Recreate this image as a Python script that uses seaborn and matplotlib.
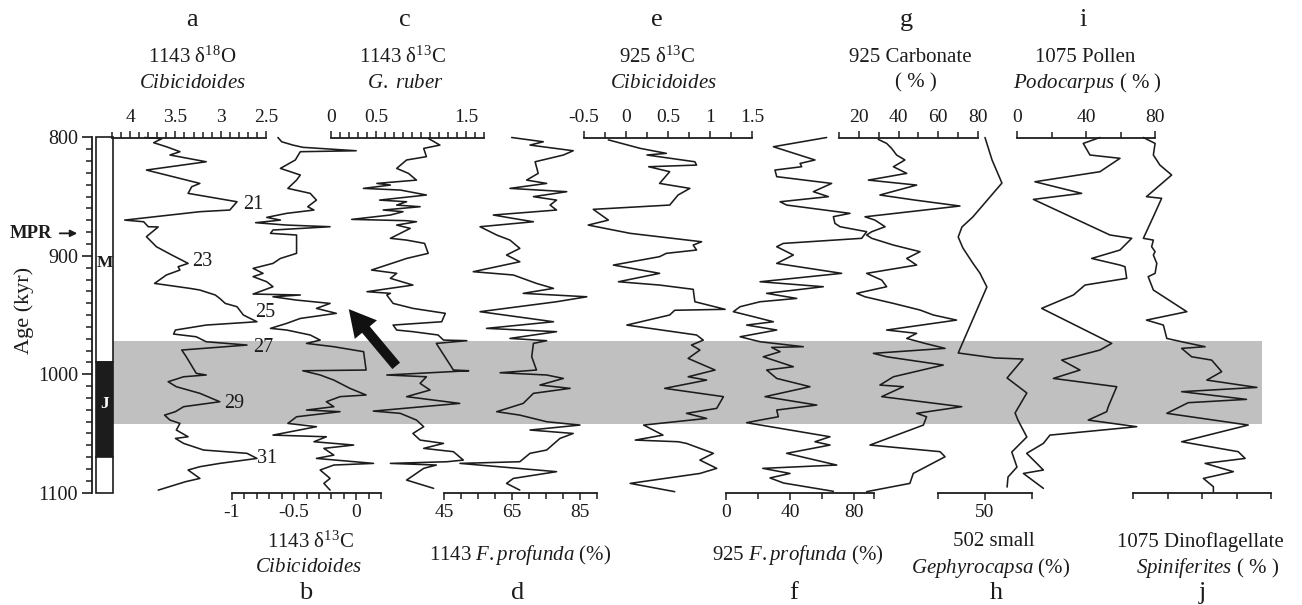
import numpy as np
import matplotlib
matplotlib.use("Agg")
import matplotlib.pyplot as plt
import matplotlib.transforms as mtransforms
from matplotlib.patches import Rectangle, FancyArrowPatch
from matplotlib.ticker import FixedLocator, FixedFormatter, NullFormatter
import seaborn as sns

sns.set_style("white")
plt.rcParams["font.family"] = ["Liberation Serif", "DejaVu Serif"]
plt.rcParams["mathtext.fontset"] = "custom"
plt.rcParams["mathtext.rm"] = "Liberation Serif"
plt.rcParams["mathtext.it"] = "Liberation Serif:italic"
plt.rcParams["mathtext.bf"] = "Liberation Serif:bold"

# ---------------------------------------------------------------- data
# (a) ODP 1143 benthic d18O, Cibicidoides (per mil)
a_age = [800, 801, 804.4, 807.8, 812, 814.8, 820.5, 827.5, 838.8, 841.6, 847.2, 854.3,
         861.3, 862.7, 869.8, 871.2, 875.4, 875.6, 883.8, 892.3, 899.3, 903.6, 906.4,
         909.2, 912, 916.2, 923.3, 927.5, 928.9, 933.1, 936, 940.2, 943, 950, 955.7,
         958.5, 962.7, 966.1, 968.4, 972.6, 975.4, 979.6, 985.3, 999.3, 1000.7, 1002.2,
         1006.4, 1010.6, 1016.2, 1023.3, 1027.5, 1031.7, 1034.6, 1038.8, 1041.6, 1047.2,
         1052.9, 1054.3, 1058.5, 1064.1, 1066.9, 1071.2, 1075.4, 1078.2, 1081, 1088.1,
         1090.9, 1098]
a_val = [3.84, 3.65, 3.74, 3.60, 3.45, 3.56, 3.16, 3.82, 3.23, 3.32, 3.36, 2.82,
         2.90, 3.23, 4.06, 3.85, 3.80, 3.69, 3.82, 3.71, 3.54, 3.43, 3.36,
         3.47, 3.45, 3.60, 3.73, 3.34, 3.23, 3.06, 3.01, 2.95, 2.82, 2.75, 2.60,
         3.16, 3.50, 3.52, 3.27, 3.16, 2.71, 3.43, 3.38, 3.27, 3.16, 3.41,
         3.58, 3.49, 3.23, 3.01, 3.41, 3.50, 3.62, 3.56, 3.45, 3.49,
         3.36, 3.50, 3.41, 3.19, 2.71, 2.60, 3.01, 3.23, 3.36, 3.23,
         3.39, 3.69]
mis_label = ["21", "23", "25", "27", "29", "31"]
mis_age = [857, 904.4, 947.5, 977.5, 1024.6, 1071]
mis_val = [2.75, 3.31, 2.62, 2.64, 2.96, 2.60]

# (b) ODP 1143 benthic d13C, Cibicidoides (per mil)
b_age = [800, 803.6, 806.4, 808.3, 811.2, 812, 819, 826.1, 831.7, 836, 843, 847.2,
         852.9, 858.5, 861.3, 864.1, 867.5, 869.8, 872, 874, 875.4, 878.2, 881, 882.4,
         897.9, 902.2, 906.4, 910.6, 914.8, 917.6, 921.9, 926.1, 932.3, 933.1, 934.6,
         937.4, 940.2, 944.4, 948.6, 952.9, 957.1, 961.3, 962.7, 966.9, 971.2, 974,
         976.8, 981, 996.5, 997.1, 1000.7, 1005, 1012, 1017.6, 1019, 1023.3, 1027.5,
         1030.3, 1031.7, 1036, 1041.6, 1044.4, 1051.5, 1052.9, 1057.1, 1059.9, 1062.7,
         1068.4, 1071.2, 1075.4, 1076.8, 1081, 1088.1, 1092.3, 1098]
b_val = [-0.63, -0.60, -0.51, -0.43, 0.00, -0.45, -0.49, -0.61, -0.45, -0.48, -0.55, -0.37,
         -0.32, -0.39, -0.34, -0.56, -0.72, -0.61, -0.81, -0.56, -0.21, -0.67, -0.69, -0.48,
         -0.48, -0.61, -0.67, -0.83, -0.75, -0.83, -0.72, -0.67, -0.83, -0.45, -0.67,
         -0.48, -0.21, -0.32, -0.16, -0.45, -0.56, -0.69, -0.56, -0.37, -0.29, -0.40,
         -0.18, 0.06, 0.08, -0.43, -0.29, -0.18, -0.05, 0.08, -0.13, -0.24, -0.18,
         -0.40, -0.13, -0.48, -0.55, -0.32, -0.67, -0.24, -0.34, -0.02, -0.26,
         -0.18, -0.32, 0.14, -0.18, -0.29, -0.21, -0.26, -0.21]

# (c) ODP 1143 planktonic d13C, G. ruber (per mil)
c_age = [800.7, 806.4, 809.2, 816.2, 819, 826.1, 830.3, 836, 838.8, 840.2, 843, 844.4,
         848.6, 852.9, 854.3, 857.1, 858.5, 861.3, 862.7, 865.5, 869.2, 870.3, 871.2,
         874, 876.8, 885.2, 886.7, 889.5, 897.9, 902.2, 905, 912, 914.8, 919, 924.7,
         930.3, 931.7, 933.1, 940.2, 944.4, 948.6, 955.7, 958.5, 962.7, 964.1, 966.9,
         971.2, 971.7, 974, 996.5, 997.1, 1000.7, 1002.2, 1007.8, 1013.4, 1019, 1024.7,
         1031.2, 1033.1, 1038.8, 1044.4, 1050.1, 1055.7, 1058.5, 1062.7, 1065.5, 1072.6,
         1074, 1075.4, 1076.8, 1079.6, 1089.5, 1096.5]
c_val = [1.08, 1.21, 1.03, 1.06, 0.84, 0.73, 0.86, 0.95, 0.51, 0.66, 0.36, 0.77,
         1.06, 0.54, 0.84, 0.73, 0.99, 0.58, 0.80, 0.66, 0.23, 0.84, 0.95,
         0.73, 0.88, 0.66, 0.84, 1.04, 1.08, 0.84, 0.73, 0.45, 0.73, 0.66, 0.91,
         0.40, 0.66, 0.62, 0.69, 0.91, 1.27, 1.23, 0.69, 0.73, 0.91, 1.19,
         1.25, 1.51, 1.17, 1.36, 1.53, 0.62, 1.06, 0.99, 1.10, 0.84, 1.43,
         0.47, 0.77, 0.95, 1.03, 0.91, 0.99, 1.25, 1.03, 1.36, 1.47,
         1.29, 0.66, 1.17, 1.03, 0.84, 1.14]

# (d) ODP 1143 F. profunda (%)
d_age = [800, 803.6, 806.4, 811.2, 814.8, 816.2, 820.5, 830.3, 836, 838.8, 843, 845.8,
         850, 852.9, 857.1, 861.3, 865.5, 868.4, 871.2, 875.4, 882.4, 886.7, 893.7,
         899.3, 905, 913.4, 916.2, 923.3, 927.5, 931.7, 934.6, 938.8, 947.2, 955.7,
         961.3, 964.1, 969.8, 971.7, 974, 985.3, 996.5, 998.8, 1000.7, 1003.6, 1009.2,
         1012, 1016.2, 1024.7, 1031.7, 1034.6, 1040.2, 1043, 1047.2, 1050.1, 1054.3,
         1064.1, 1066.9, 1074, 1075.4, 1082.4, 1088.1, 1092.3, 1098]
d_val = [64.9, 74.2, 70.3, 83.0, 80.1, 78.1, 71.8, 72.7, 69.3, 75.2, 64.4, 81.1,
         71.3, 78.1, 76.2, 78.1, 59.5, 65.4, 71.3, 55.6, 60.5, 64.4, 67.3,
         63.4, 67.3, 53.6, 65.4, 72.2, 77.2, 68.3, 87.0, 78.1, 55.6, 77.2,
         57.5, 78.1, 64.4, 75.2, 71.3, 70.8, 72.2, 61.5, 75.2, 80.1, 73.2,
         82.1, 71.3, 68.3, 60.5, 67.3, 75.2, 85.0, 70.3, 83.0, 79.1,
         75.2, 70.3, 67.3, 49.7, 78.1, 65.4, 63.4, 67.3]

# (e) ODP 925 benthic d13C, Cibicidoides (per mil)
e_age = [802, 809.2, 813.4, 814.8, 820.5, 823.3, 824.7, 828.9, 838.8, 843, 848.6, 857.1,
         860.7, 869.8, 874, 881, 888.1, 890.9, 895.1, 897.9, 900.7, 907.8, 914.8, 921.9,
         924.7, 928.3, 938.8, 942, 945.2, 946, 950, 958.5, 966.9, 971.2, 975.4, 979.6,
         986.7, 996.5, 1002.2, 1005, 1012, 1019, 1028.9, 1033.1, 1037.4, 1043, 1051.5,
         1055.7, 1057.1, 1058.5, 1066.9, 1072.6, 1079.6, 1083.9, 1092.3, 1099.3]
e_val = [-0.21, 0.17, 0.48, 0.25, 0.82, 0.84, 0.27, 0.52, 0.40, 0.76, 0.62, 0.52,
         -0.39, -0.21, -0.45, 0.05, 0.90, 0.80, 0.84, 0.48, 0.40, -0.15, 0.40, -0.09,
         0.40, 0.80, 0.82, 1.00, 1.18, 0.58, 0.52, 0.01, 0.84, 0.92, 0.78, 0.88,
         0.74, 1.06, 0.74, 0.96, 0.46, 1.16, 1.08, 0.72, 0.96, 0.21, 0.44,
         0.11, 0.62, 0.72, 1.04, 0.88, 1.08, 0.88, 0.05, 0.58]

# (f) ODP 925 F. profunda (%)
f_age = [800, 807.8, 819, 821.9, 824.7, 827.5, 833.1, 838.8, 845.8, 850, 854.3, 857.1,
         864.1, 866.9, 872.6, 875.4, 879.6, 885.2, 889.5, 892.3, 899.3, 906.4, 914.8,
         921.9, 926.1, 931.7, 936, 938.8, 943, 947.2, 951.4, 955.7, 958.5, 962.7, 968.4,
         972.6, 976.8, 977.4, 981, 985.3, 993.7, 996.5, 1003.6, 1010.6, 1019, 1026.1,
         1030.3, 1036, 1038.8, 1041, 1052.9, 1057.1, 1059.9, 1066.9, 1076.8, 1079.6,
         1083.9, 1087.7, 1092, 1099]
f_val = [62.9, 29.6, 55.6, 46.3, 47.3, 30.6, 31.7, 66.0, 54.6, 64.0, 33.8, 37.9,
         77.5, 67.1, 68.1, 71.3, 87.9, 84.8, 35.8, 31.7, 42.1, 31.7, 72.3,
         21.3, 60.8, 25.4, 44.2, 21.3, 8.8, 4.6, 17.1, 29.6, 12.9, 31.7, 8.8,
         21.3, 48.3, 28.5, 33.8, 23.3, 42.1, 25.4, 31.7, 52.5, 24.4, 56.7,
         31.7, 32.7, 21.3, 12.9, 65.0, 55.6, 65.0, 37.9, 69.2, 23.0,
         40.0, 27.5, 36.0, 67.1]

# (g) ODP 925 carbonate (%)
g_age = [801.6, 805, 809.2, 814.8, 819, 824.7, 830.3, 836, 840.2, 848.6, 852.9, 857.9,
         867, 869.8, 875.4, 879.6, 882.4, 885.2, 890.9, 896.5, 902.2, 907.8, 914.8,
         920.5, 926.1, 931.7, 934.6, 940.2, 945.8, 950, 954.3, 962.7, 965.5, 969.8,
         974, 978.2, 982.4, 985.3, 992.3, 1002.2, 1009.2, 1010.6, 1019, 1027.5, 1033.1,
         1036, 1043, 1059.9, 1065.5, 1069.8, 1083.9, 1092.3, 1099.3]
g_val = [29.8, 34.0, 36.5, 39.0, 43.2, 37.4, 44.1, 24.8, 49.1, 30.6, 48.3, 70.9,
         23.1, 28.1, 33.2, 26.5, 23.9, 26.5, 37.4, 50.8, 44.1, 49.1, 23.9,
         31.5, 34.0, 18.9, 23.1, 37.4, 50.8, 57.5, 69.2, 34.0, 49.1, 44.1,
         53.3, 63.4, 27.3, 34.0, 62.5, 37.4, 30.6, 42.4, 31.5, 71.8, 49.1,
         54.1, 52.5, 25.6, 60.9, 63.4, 47.4, 45.7, 23.9]

# (h) ODP 502 small Gephyrocapsa (%)
h_age = [800, 819, 838.5, 867.2, 875.6, 884.1, 893.4, 906.1, 914.5, 926.3, 982.1,
         986.3, 987.2, 1003.2, 1015.9, 1032.8, 1038.7, 1053.1, 1065.8, 1078.5, 1086.9,
         1095.4]
h_val = [50.0, 51.5, 53.6, 47.4, 45.1, 44.3, 45.3, 47.4, 48.9, 50.4, 44.3,
         52.1, 58.1, 54.7, 58.9, 56.4, 57.0, 58.9, 55.7, 56.8, 54.9,
         54.7]

# (i) ODP 1075 Podocarpus pollen (%)
i_age = [800, 805, 814.8, 817.6, 828.9, 837.4, 847.2, 852.3, 882.4, 885.2, 895.1,
         902.2, 907.8, 909.2, 919, 924.7, 933.1, 944.4, 974, 979.6, 988.1, 996.5,
         1003.6, 1010.6, 1027.5, 1031.7, 1038.8, 1044.4, 1051.5, 1058.5, 1066.9,
         1081, 1083.9, 1096.5]
i_val = [48.1, 38.4, 42.3, 59.7, 48.1, 10.4, 37.5, 9.5, 53.9, 66.5, 59.7,
         43.3, 59.7, 62.6, 63.6, 39.4, 32.7, 14.3, 54.9, 48.1, 25.9, 36.5,
         21.1, 57.8, 52.9, 52.0, 41.3, 69.4, 19.1, 15.3, 5.6,
         15.3, 3.7, 15.3]

# (j) ODP 1075 dinoflagellate Spiniferites (%)
j_age = [800, 805, 814.8, 823.3, 831.7, 850, 851.4, 866.9, 885.2, 886.7, 892.3,
         896.5, 899.3, 906.4, 914.8, 917.6, 928.9, 947.2, 954.3, 958.5, 969.8, 972.6,
         976.8, 978.2, 985.3, 988.1, 997.9, 1005, 1011.2, 1014.8, 1021.3, 1024.1,
         1033.1, 1043, 1057.1, 1065.5, 1071.2, 1075.4, 1082.4, 1088.1, 1095.1, 1099.3]
j_val = [3.0, 6.4, 5.9, 7.8, 11.2, 3.9, 8.3, 5.9, 3.0, 5.9, 5.4,
         6.4, 5.9, 6.9, 6.4, 4.4, 5.9, 15.6, 3.9, 8.8, 9.8, 14.1,
         20.9, 14.1, 17.0, 22.8, 25.7, 21.4, 35.9, 14.1, 32.9, 16.0,
         9.8, 33.4, 14.1, 30.5, 32.5, 20.9, 29.1, 20.4, 23.3, 23.3]

# Geomagnetic polarity (Matuyama chron with the Jaramillo subchron)
chron_name = ["M", "J", ""]
chron_label_age = [906, 1025, 1085]
chron_top = [800, 990, 1070]
chron_base = [990, 1070, 1100]
chron_normal = [False, True, False]

band_age = (972, 1042)   # highlighted interval
mpr_age = 881            # onset of the Mid-Pleistocene Revolution

# ---------------------------------------------------------------- layout helpers
W, H = 1302, 605
fig = plt.figure(figsize=(W / 100, H / 100), dpi=100)
Y_TOP, Y_BOT = 137.5, 492.5
INK = "#1c1c1c"
TITLE = 15
TICK = 14


def fx(x):
    return x / W


def fy(y):
    return 1 - y / H


def ftext(x, y, s, size=TITLE, **kw):
    fig.text(fx(x), fy(y), s, ha="center", va="center", fontsize=size, color=INK, **kw)


# Age axis, highlighted band and polarity column
ax0 = fig.add_axes([fx(92), fy(Y_BOT), fx(1262 - 92), (Y_BOT - Y_TOP) / H])
ax0.set_ylim(1100, 800)
ax0.set_xlim(0, 1)
ax0.patch.set_alpha(0)
for side in ["top", "right", "bottom"]:
    ax0.spines[side].set_visible(False)
ax0.spines["left"].set_linewidth(1.3)
ax0.spines["left"].set_color(INK)
ax0.set_xticks([])
ax0.set_yticks([800, 900, 1000, 1100])
ax0.yaxis.set_minor_locator(FixedLocator(np.arange(800, 1101, 10)))
ax0.tick_params(axis="y", which="major", direction="out", length=7, width=1.2,
                labelsize=14.5, pad=3, colors=INK, left=True)
ax0.tick_params(axis="y", which="minor", direction="out", length=4, width=1.1,
                colors=INK, left=True)

band_x0 = (113 - 92) / (1262 - 92)
ax0.axhspan(band_age[0], band_age[1], xmin=band_x0, xmax=1.0, color="#c0c0c0",
            lw=0, zorder=0)

blend = mtransforms.blended_transform_factory(ax0.transAxes, ax0.transData)
bx0 = (96 - 92) / (1262 - 92)
bw = (113 - 96) / (1262 - 92)
for name, lab_age, top, base, normal in zip(chron_name, chron_label_age, chron_top,
                                            chron_base, chron_normal):
    ax0.add_patch(Rectangle((bx0, top), bw, base - top, transform=blend,
                            facecolor=INK if normal else "white", edgecolor=INK,
                            lw=1.2, zorder=3, clip_on=False))
    if name:
        ax0.text(bx0 + bw / 2, lab_age, name, transform=blend, ha="center",
                 va="center", fontsize=12.5, fontweight="bold",
                 color="white" if normal else INK, zorder=4)

fig.text(fx(24), fy(310), "Age (kyr)", rotation=90, ha="center", va="center",
         fontsize=16, color=INK)
mpr_y = Y_TOP + (mpr_age - 800) * (Y_BOT - Y_TOP) / 300
fig.text(fx(10), fy(mpr_y), "MPR", ha="left", va="center", fontsize=13.5,
         fontweight="bold", color=INK)
fig.add_artist(FancyArrowPatch(
    (fx(57), fy(mpr_y)), (fx(80), fy(mpr_y)), transform=fig.transFigure,
    arrowstyle="-|>", mutation_scale=10, lw=1.3, color=INK))


# ---------------------------------------------------------------- record panels
def panel(x0, x1, lim, ages, vals, side, majors, labels, minors):
    ax = fig.add_axes([fx(x0), fy(Y_BOT), fx(x1 - x0), (Y_BOT - Y_TOP) / H])
    ax.patch.set_alpha(0)
    sns.lineplot(x=vals, y=ages, sort=False, estimator=None, ax=ax, color=INK,
                 lw=1.15, clip_on=False)
    ax.set_xlim(*lim)
    ax.set_ylim(1100, 800)
    ax.set_xlabel("")
    ax.set_ylabel("")
    ax.set_yticks([])
    for s in ["top", "bottom", "left", "right"]:
        ax.spines[s].set_visible(s == side)
    ax.spines[side].set_linewidth(1.3)
    ax.spines[side].set_color(INK)
    ax.xaxis.set_ticks_position(side)
    ax.xaxis.set_label_position(side)
    ax.xaxis.set_major_locator(FixedLocator(majors))
    ax.xaxis.set_major_formatter(FixedFormatter(labels))
    ax.xaxis.set_minor_locator(FixedLocator(minors))
    ax.xaxis.set_minor_formatter(NullFormatter())
    ax.tick_params(axis="x", which="both", direction="out", width=1.1, colors=INK,
                   labelsize=TICK, pad=3)
    ax.tick_params(axis="x", which="major", length=5)
    ax.tick_params(axis="x", which="minor", length=4)
    return ax


ax_a = panel(112, 266, (4.2, 2.5), a_age, a_val, "top",
             [4, 3.5, 3, 2.5], ["4", "3.5", "3", "2.5"], np.arange(2.5, 4.21, 0.1))
for lab, age, val in zip(mis_label, mis_age, mis_val):
    ax_a.text(val, age, lab, ha="left", va="center", fontsize=14.5, color=INK)

panel(232, 381, (-1, 0.2), b_age, b_val, "bottom",
      [-1, -0.5, 0], ["-1", "-0.5", "0"], np.arange(-1, 0.21, 0.1))
panel(331, 484, (0, 1.7), c_age, c_val, "top",
      [0, 0.5, 1.5], ["0", "0.5", "1.5"], np.arange(0, 1.71, 0.1))
panel(444, 597, (45, 90), d_age, d_val, "bottom",
      [45, 65, 85], ["45", "65", "85"], np.arange(45, 90.1, 5))
panel(584, 752, (-0.5, 1.5), e_age, e_val, "top",
      [-0.5, 0, 0.5, 1, 1.5], ["-0.5", "0", "0.5", "1", "1.5"], np.arange(-0.5, 1.51, 0.25))
panel(726, 874, (0, 92.5), f_age, f_val, "bottom",
      [0, 40, 80], ["0", "40", "80"], [20, 60, 92.5])
panel(839, 978, (10, 80), g_age, g_val, "top",
      [20, 40, 60, 80], ["20", "40", "60", "80"], [10, 30, 50, 70])
panel(938, 1032, (40, 60), h_age, h_val, "bottom",
      [50], ["50"], [40, 60])
panel(1017, 1155, (0, 80), i_age, i_val, "top",
      [0, 40, 80], ["0", "40", "80"], [20, 60])
panel(1133, 1271, (0, 40), j_age, j_val, "bottom",
      [], [], [0, 10, 20, 30, 40])

# ---------------------------------------------------------------- titles
LET = 19
ftext(192, 20, "a", LET)
ftext(192, 57, r"1143 δ$^{18}$O")
ftext(192, 83, r"$\it{Cibicidoides}$")
ftext(405, 20, "c", LET)
ftext(402, 57, r"1143 δ$^{13}$C")
ftext(405, 83, r"$\it{G.\ ruber}$")
ftext(657, 20, "e", LET)
ftext(657, 57, r"925 δ$^{13}$C")
ftext(663, 83, r"$\it{Cibicidoides}$")
ftext(906, 20, "g", LET)
ftext(910, 57, "925 Carbonate")
ftext(916, 83, "( % )")
ftext(1083, 20, "i", LET)
ftext(1085, 57, "1075 Pollen")
ftext(1087, 83, r"$\it{Podocarpus}$ ( % )")

ftext(310, 542, r"1143 δ$^{13}$C")
ftext(308, 568, r"$\it{Cibicidoides}$")
ftext(306, 593, "b", LET)
ftext(520, 555, r"1143 $\it{F.profunda}$ (%)")
ftext(518, 593, "d", LET)
ftext(798, 555, r"925 $\it{F.profunda}$ (%)")
ftext(794, 593, "f", LET)
ftext(994, 542, "502 small")
ftext(991, 568, r"$\it{Gephyrocapsa}$ (%)")
ftext(996, 593, "h", LET)
ftext(1200, 542, "1075 Dinoflagellate")
ftext(1208, 568, r"$\it{Spiniferites}$ ( % )")
ftext(1202, 593, "j", LET)

# arrow pointing from the Jaramillo interval towards MIS 25
fig.add_artist(FancyArrowPatch(
    (fx(398), fy(368)), (fx(347), fy(307)), transform=fig.transFigure,
    arrowstyle="simple,head_width=1.3,head_length=1.2,tail_width=0.45",
    mutation_scale=16, color="#111111", lw=0))

fig.savefig("out.png", dpi=100)
